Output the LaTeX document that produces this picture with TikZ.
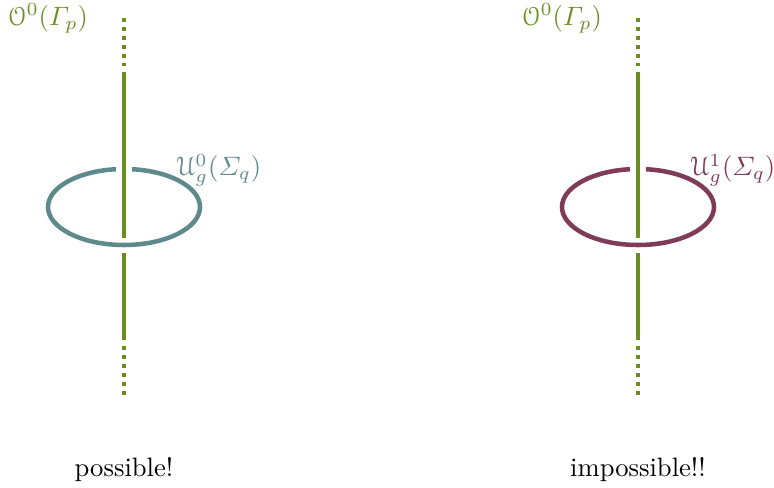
\documentclass[tikz,border=0pt]{standalone}
\usepackage{amsmath}
\usepackage{eucal}
\definecolor{olivegreen}{HTML}{6B8E23}
\definecolor{loopteal}{HTML}{5F8A8B}
\definecolor{loopwine}{HTML}{7F3B57}
\tikzset{
  lineop/.style={draw=olivegreen,line width=1.4pt},
  loopop/.style={line width=1.7pt}
}
\begin{document}
\begin{tikzpicture}[x=0.01321cm,y=-0.01321cm]
        \useasboundingbox (0,0) rectangle (774,488);
        \foreach \cx/\col/\k/\txt in {124/loopteal/0/possible!, 638/loopwine/1/impossible!!} {
            \coordinate (a\k) at (\cx,18);
            \coordinate (b\k) at (\cx,66);
            \coordinate (c\k) at (\cx,72);
            \coordinate (d\k) at (\cx,238);
            \coordinate (e\k) at (\cx,253);
            \coordinate (f\k) at (\cx,340);
            \coordinate (g\k) at (\cx,346);
            \coordinate (h\k) at (\cx,396);
            \draw[lineop,dotted] (a\k) -- (b\k);
            \draw[lineop] (c\k) -- (d\k);
            \draw[lineop] (e\k) -- (f\k);
            \draw[lineop,dotted] (g\k) -- (h\k);
            \draw[loopop,draw=\col] (\cx,207) ++(276:76 and 38) arc[start angle=276, end angle=624, x radius=76, y radius=38];
            \node[text=olivegreen] (op\k) at (\cx-76,18) {$\mathcal{O}^0(\varGamma_p)$};
            \node[text=\col] (lp\k) at (\cx+95,170) {$\mathcal{U}^{\k}_g(\varSigma_q)$};
            \node (txt\k) at (\cx,470) {\txt};
        }
    \end{tikzpicture}
\end{document}
